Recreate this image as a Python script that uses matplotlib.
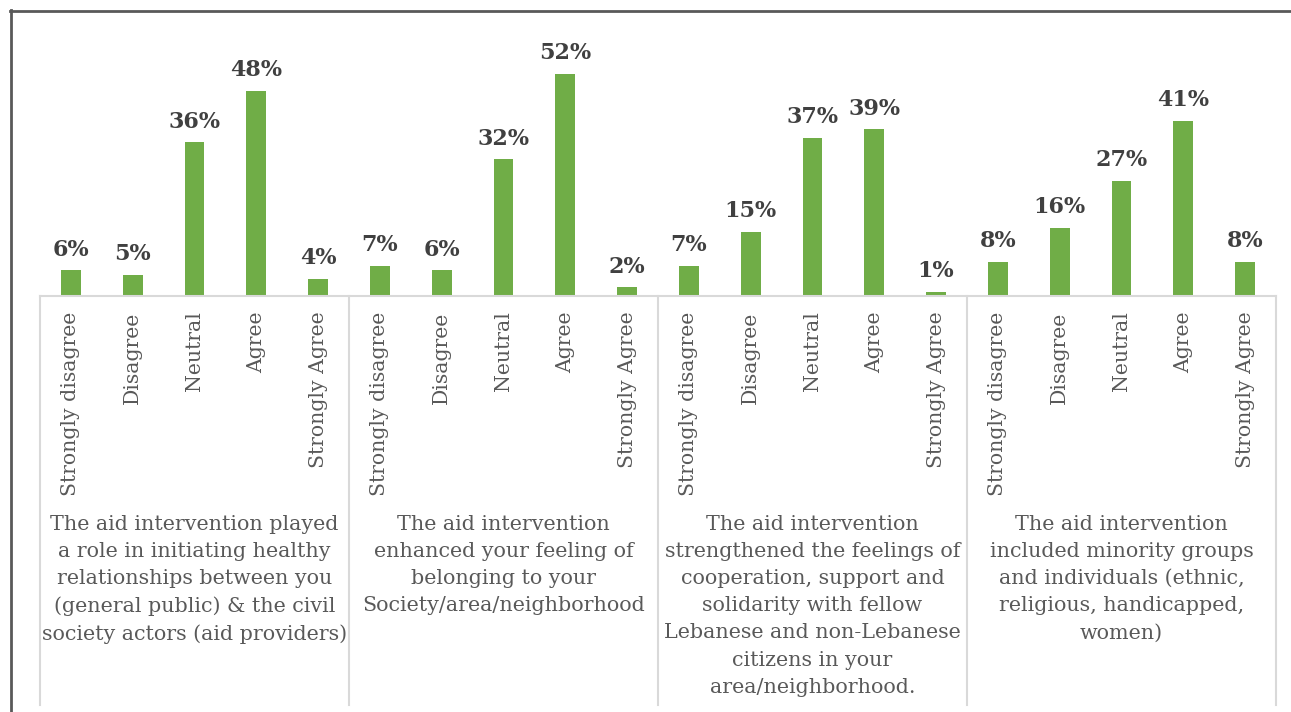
import matplotlib
matplotlib.use('Agg')
import matplotlib.pyplot as plt
from matplotlib.lines import Line2D
import numpy as np

# Data
responses = ['Strongly disagree', 'Disagree', 'Neutral', 'Agree', 'Strongly Agree']
statements = [
    'The aid intervention played\na role in initiating healthy\nrelationships between you\n(general public) & the civil\nsociety actors (aid providers)',
    'The aid intervention\nenhanced your feeling of\nbelonging to your\nSociety/area/neighborhood',
    'The aid intervention\nstrengthened the feelings of\ncooperation, support and\nsolidarity with fellow\nLebanese and non-Lebanese\ncitizens in your\narea/neighborhood.',
    'The aid intervention\nincluded minority groups\nand individuals (ethnic,\nreligious, handicapped,\nwomen)',
]
healthy_relations = [6, 5, 36, 48, 4]
belonging = [7, 6, 32, 52, 2]
solidarity = [7, 15, 37, 39, 1]
minorities = [8, 16, 27, 41, 8]

all_values = healthy_relations + belonging + solidarity + minorities
labels = responses * 4

W, H = 1291, 712
fig = plt.figure(figsize=(W / 100, H / 100), dpi=100)
fig.patch.set_facecolor('white')

# axes: baseline at y=296px, plot top at 20px, x from 40 to 1276
ax_left, ax_right = 40, 1276
ax_base, ax_top = 296, 20
ax = fig.add_axes([ax_left / W, (H - ax_base) / H, (ax_right - ax_left) / W, (ax_base - ax_top) / H])

x = np.arange(len(all_values))
green = '#70AD47'
ax.bar(x, all_values, width=0.32, color=green)
ax.set_xlim(-0.5, len(all_values) - 0.5)
ax.set_ylim(0, (ax_base - ax_top) / 4.27)

for xi, v in zip(x, all_values):
    ax.annotate(f'{v}%', (xi, v), xytext=(0, 7), textcoords='offset points',
                ha='center', va='bottom', fontsize=16, fontweight='bold',
                family='DejaVu Serif', color='#404040')

ax.set_xticks(x)
ax.set_xticklabels(labels, rotation=90, fontsize=14.7, family='DejaVu Serif', color='#595959')
ax.tick_params(axis='x', length=0, pad=11)
ax.set_yticks([])
for s in ['left', 'right', 'top']:
    ax.spines[s].set_visible(False)
ax.spines['bottom'].set_color('#D9D9D9')
ax.spines['bottom'].set_linewidth(1.5)

# group separators that run below the axis
ax_h = ax_base - ax_top
sep_bottom = -(705 - ax_base) / ax_h
trans = ax.get_xaxis_transform()
for b in np.arange(0, 21, 5) - 0.5:
    ax.add_line(Line2D([b, b], [0, sep_bottom], transform=trans, color='#D9D9D9',
                       lw=1.5, clip_on=False))

# group labels
label_top = -(515 - ax_base) / ax_h
for i, txt in enumerate(statements):
    ax.text(i * 5 + 2, label_top, txt, transform=trans, ha='center', va='top',
            fontsize=14.9, family='DejaVu Serif', color='#595959', linespacing=1.54)

# outer frame (left and top)
fig.add_artist(Line2D([11 / W, 11 / W], [0, 1 - 10 / H], transform=fig.transFigure,
                      color='#595959', lw=2))
fig.add_artist(Line2D([10 / W, 1], [1 - 11 / H, 1 - 11 / H], transform=fig.transFigure,
                      color='#595959', lw=2))

fig.savefig('out.png', dpi=100)
